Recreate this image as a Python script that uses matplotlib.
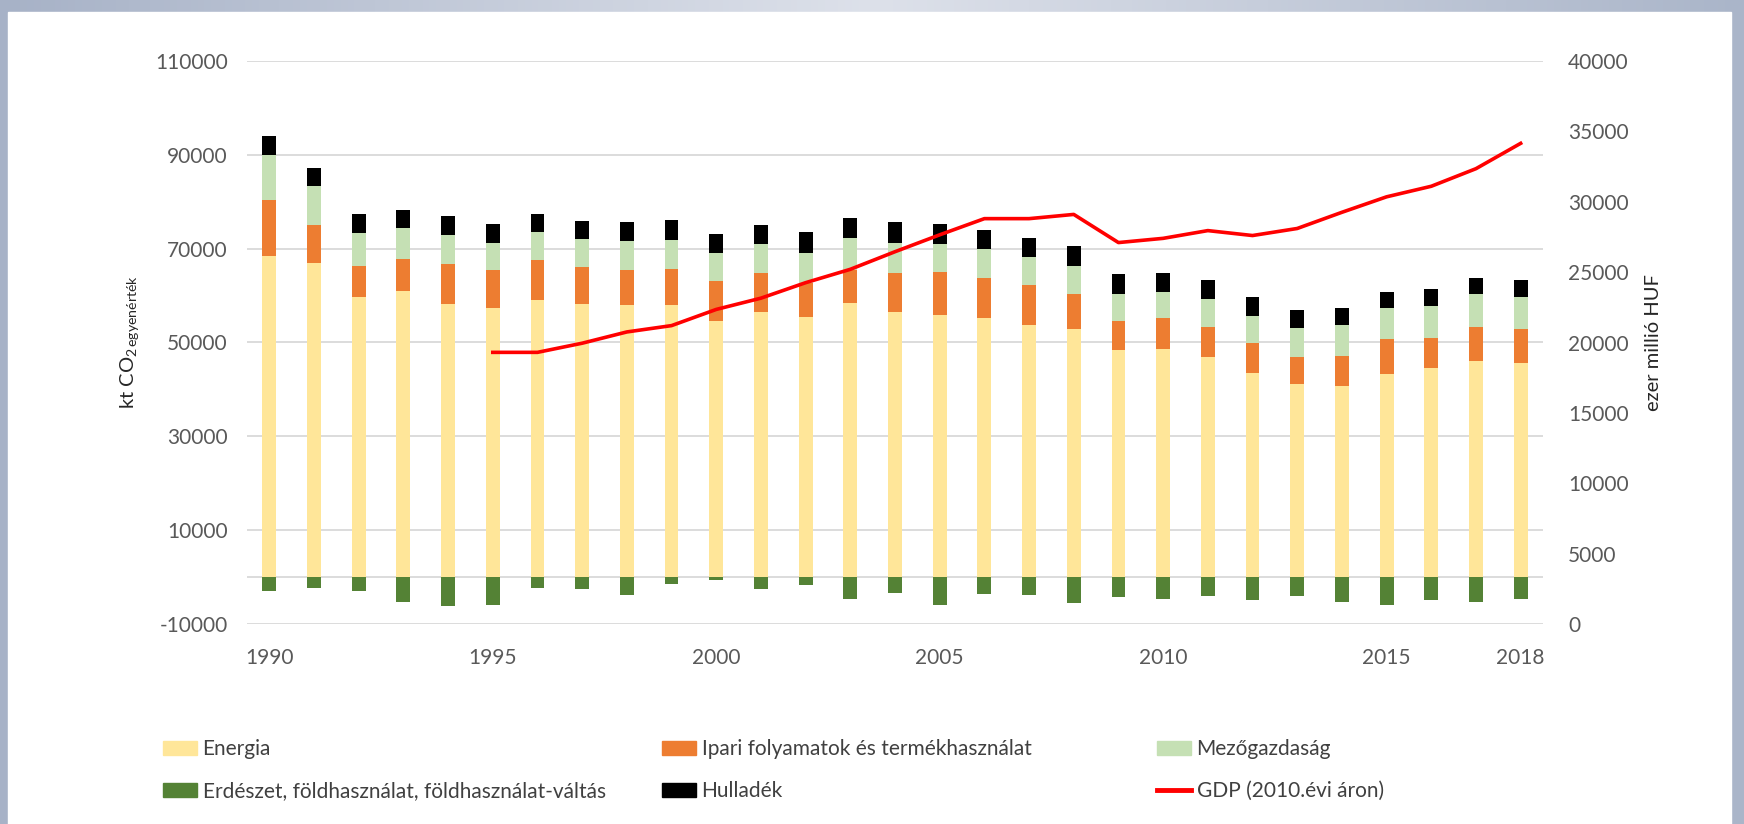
import numpy as np
import matplotlib
matplotlib.use('Agg')
import matplotlib.pyplot as plt
from matplotlib.patches import Patch, Rectangle
from matplotlib.lines import Line2D
from matplotlib.colors import LinearSegmentedColormap

plt.rcParams['font.family'] = ['Lato', 'DejaVu Sans']
plt.rcParams['mathtext.fontset'] = 'custom'
plt.rcParams['mathtext.rm'] = 'Lato'
plt.rcParams['mathtext.it'] = 'Lato:italic'
plt.rcParams['mathtext.bf'] = 'Lato:bold'
plt.rcParams['axes.unicode_minus'] = False

# kt CO2 egyenérték, 1990-2018
years = list(range(1990, 2019))
energia = [68500, 67000, 59700, 60900, 58100, 57300, 59000, 58100, 58000, 58000,
           54650, 56550, 55500, 58400, 56600, 55900, 55150, 53750, 52950, 48450,
           48700, 46950, 43600, 41200, 40700, 43350, 44500, 46050, 45550]
ipari = [11850, 8100, 6500, 7000, 8700, 8200, 8600, 7900, 7500, 7700,
         8400, 8250, 7200, 7000, 8200, 9200, 8700, 8450, 7400, 6200,
         6500, 6350, 6250, 5800, 6400, 7350, 6400, 7250, 7350]
mezogazdasag = [9700, 8200, 7200, 6400, 6100, 5700, 5900, 6100, 6100, 6200,
                6000, 6200, 6400, 6800, 6500, 5900, 6000, 6050, 6050, 5650,
                5650, 5900, 5850, 6000, 6650, 6550, 6900, 7000, 6850]
hulladek = [3900, 3900, 3900, 3900, 4000, 4100, 3950, 3800, 4000, 4200,
            4100, 4000, 4400, 4300, 4300, 4200, 4150, 4100, 4250, 4350,
            4000, 4100, 3900, 3900, 3650, 3600, 3550, 3550, 3600]
erdeszet = [-2900, -2400, -2900, -5300, -6100, -5900, -2300, -2600, -3900, -1500,
            -700, -2600, -1700, -4600, -3350, -5900, -3700, -3900, -5500, -4250,
            -4600, -3950, -4800, -3950, -5300, -5900, -4800, -5300, -4750]
# GDP, ezer millió HUF (2010. évi áron), 1995-tól
gdp = [np.nan] * 5 + [19300, 19300, 19950, 20750, 21200, 22350, 23150, 24250, 25200,
                      26450, 27650, 28800, 28800, 29100, 27100, 27400, 27950, 27600,
                      28100, 29250, 30350, 31100, 32350, 34150]
tick_years = [1990, 1995, 2000, 2005, 2010, 2015, 2018]

c_energia = '#FFE699'
c_ipari = '#ED7D31'
c_mezo = '#C5E0B4'
c_erdo = '#548235'
c_hull = '#000000'
c_gdp = '#FF0000'

fig = plt.figure(figsize=(17.44, 8.24), dpi=100)

# background frame like the slide
bg = fig.add_axes([0, 0, 1, 1])
grad = np.linspace(0, 1, 256).reshape(1, -1)
cmap = LinearSegmentedColormap.from_list('bg', ['#a7b2c7', '#dde1ea', '#aab5c9'])
bg.imshow(grad, aspect='auto', cmap=cmap, extent=[0, 1, 0, 1])
bg.add_patch(Rectangle((8 / 1744, 0), (1731 - 8) / 1744, (824 - 12) / 824,
                       color='white', zorder=2))
bg.set_xlim(0, 1)
bg.set_ylim(0, 1)
bg.axis('off')

ax = fig.add_axes([247 / 1744, 200 / 824, 1296 / 1744, 563 / 824])
ax.patch.set_visible(False)

x = np.arange(len(years))
w = 0.31
e = np.array(energia)
i = np.array(ipari)
m = np.array(mezogazdasag)
ax.bar(x, e, w, color=c_energia, zorder=3)
ax.bar(x, i, w, bottom=e, color=c_ipari, zorder=3)
ax.bar(x, m, w, bottom=e + i, color=c_mezo, zorder=3)
ax.bar(x, hulladek, w, bottom=e + i + m, color=c_hull, zorder=3)
ax.bar(x, erdeszet, w, color=c_erdo, zorder=3)

ax.set_xlim(-0.5, len(years) - 0.5)
ax.set_ylim(-10000, 110000)
ax.set_yticks(range(-10000, 110001, 20000))
ax.grid(axis='y', color='#d9d9d9', linewidth=1.3, zorder=0)
ax.axhline(0, color='#d9d9d9', linewidth=1.3, zorder=1)
ax.set_xticks([years.index(t) for t in tick_years])
ax.set_xticklabels([str(t) for t in tick_years])
ax.tick_params(axis='both', length=0, labelsize=15, colors='#595959')
ax.tick_params(axis='y', pad=14)
ax.tick_params(axis='x', pad=17)
for s in ax.spines.values():
    s.set_visible(False)
ax.set_ylabel(r'kt CO$_{2\,\mathrm{egyenérték}}$', fontsize=14.5, color='#262626', labelpad=10)

ax2 = ax.twinx()
ax2.plot(x, gdp, color=c_gdp, linewidth=2.6, zorder=4)
ax2.set_ylim(0, 40000)
ax2.set_yticks(range(0, 40001, 5000))
ax2.tick_params(axis='y', length=0, labelsize=15, colors='#595959', pad=18)
for s in ax2.spines.values():
    s.set_visible(False)
ax2.set_ylabel('ezer millió HUF', fontsize=14.5, color='#262626', labelpad=12)

# legend: three columns, two rows
leg_kw = dict(loc='center left', frameon=False, fontsize=15, labelcolor='#404040',
              handlelength=1.65, handleheight=0.65, handletextpad=0.25,
              labelspacing=1.05, borderpad=0, borderaxespad=0)
yc = (824 - 770) / 824
fig.legend(handles=[Patch(color=c_energia, label='Energia'),
                    Patch(color=c_erdo, label='Erdészet, földhasználat, földhasználat-váltás')],
           bbox_to_anchor=(163 / 1744, yc), **leg_kw)
fig.legend(handles=[Patch(color=c_ipari, label='Ipari folyamatok és termékhasználat'),
                    Patch(color=c_hull, label='Hulladék')],
           bbox_to_anchor=(662 / 1744, yc), **leg_kw)
fig.legend(handles=[Patch(color=c_mezo, label='Mezőgazdaság'),
                    Line2D([0], [0], color=c_gdp, linewidth=3.5, label='GDP (2010.évi áron)')],
           bbox_to_anchor=(1157 / 1744, yc), **leg_kw)

fig.savefig('out.png', dpi=100)
